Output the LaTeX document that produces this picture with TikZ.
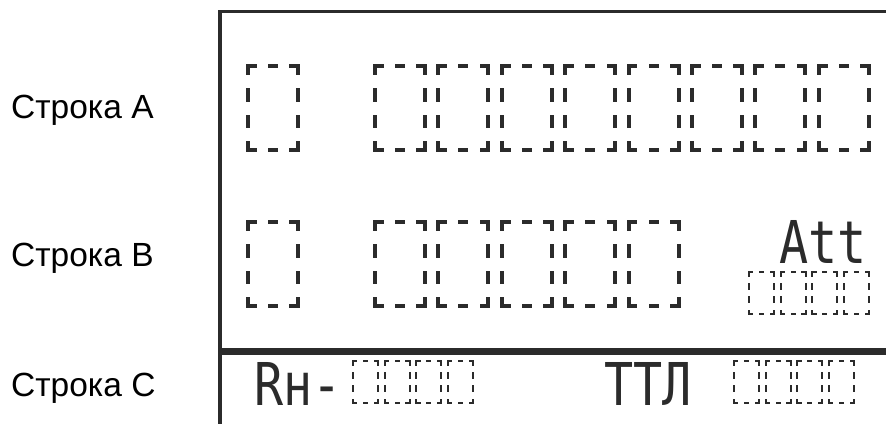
\documentclass[tikz,border=0pt]{standalone}
\usepackage{fontspec}
\setmainfont{Liberation Sans}
\newfontfamily\lcdfont[FakeStretch=0.82]{DejaVu Sans Mono}
\definecolor{lcdink}{HTML}{2B2B2B}
\tikzset{
  lcdseg/.style={fill=lcdink},
  frameline/.style={draw=lcdink, line width=3.4pt, line cap=butt},
  sepline/.style={draw=lcdink, line width=6.7pt, line cap=butt},
  rowlabel/.style={anchor=base west, inner sep=0pt, font=\fontsize{33.5}{33.5}\selectfont, text=black},
  lcdtext/.style={anchor=base west, inner sep=0pt, font=\lcdfont\fontsize{59}{59}\selectfont, text=lcdink}
}
% one dashed digit cell: top-left (#1,#2), scale #3
\newcommand\dcell[3]{%
  \begin{scope}[shift={(#1,#2)}, scale=#3]
    \def\t{4}
    % top edge
    \fill[lcdseg] (0,0) rectangle (10.7,\t);
    \fill[lcdseg] (22,0) rectangle (32,\t);
    \fill[lcdseg] (43.3,0) rectangle (54,\t);
    % bottom edge
    \fill[lcdseg] (0,88-\t) rectangle (10.7,88);
    \fill[lcdseg] (22,88-\t) rectangle (32,88);
    \fill[lcdseg] (43.3,88-\t) rectangle (54,88);
    % left edge
    \fill[lcdseg] (0,0) rectangle (\t,11);
    \fill[lcdseg] (0,24) rectangle (\t,37.5);
    \fill[lcdseg] (0,50.5) rectangle (\t,64);
    \fill[lcdseg] (0,77) rectangle (\t,88);
    % right edge
    \fill[lcdseg] (54-\t,0) rectangle (54,11);
    \fill[lcdseg] (54-\t,24) rectangle (54,37.5);
    \fill[lcdseg] (54-\t,50.5) rectangle (54,64);
    \fill[lcdseg] (54-\t,77) rectangle (54,88);
  \end{scope}}
% group of #3 cells starting at (#1,#2), scale #4
\newcommand\dgroup[4]{%
  \foreach \k in {1,...,#3}{%
    \pgfmathsetmacro\xx{#1+(\k-1)*63.4*#4}%
    \dcell{\xx}{#2}{#4}%
  }}
\begin{document}
\begin{tikzpicture}[x=1pt, y=-1pt]
  \useasboundingbox (0,0) rectangle (886,423);
  \clip (0,0) rectangle (886,423);
  \fill[white] (0,0) rectangle (886,423);

  % frame
  \coordinate (fbot) at (220,430);
  \coordinate (ftl) at (220,11.7);
  \coordinate (ftr) at (890,11.7);
  \coordinate (sepl) at (220,351.7);
  \coordinate (sepr) at (890,351.7);
  \draw[frameline] (fbot) -- (ftl) -- (ftr);
  \draw[sepline] (sepl) -- (sepr);

  % row labels
  \node[rowlabel] (la) at (11,118) {Строка A};
  \node[rowlabel] (lb) at (11,266) {Строка B};
  \node[rowlabel] (lc) at (11,396) {Строка C};

  % row A
  \dcell{246}{64}{1}
  \dgroup{373}{64}{8}{1}
  % row B
  \dcell{246}{220}{1}
  \dgroup{373}{220}{5}{1}
  \node[lcdtext] (att) at (779,263) {Att};
  \dgroup{748}{271}{4}{0.5}
  % row C
  \node[lcdtext] (rn) at (254,405) {Rн-};
  \dgroup{352}{360}{4}{0.5}
  \node[lcdtext] (ttl) at (604,405) {ТТЛ};
  \dgroup{733}{360}{4}{0.5}
\end{tikzpicture}
\end{document}
